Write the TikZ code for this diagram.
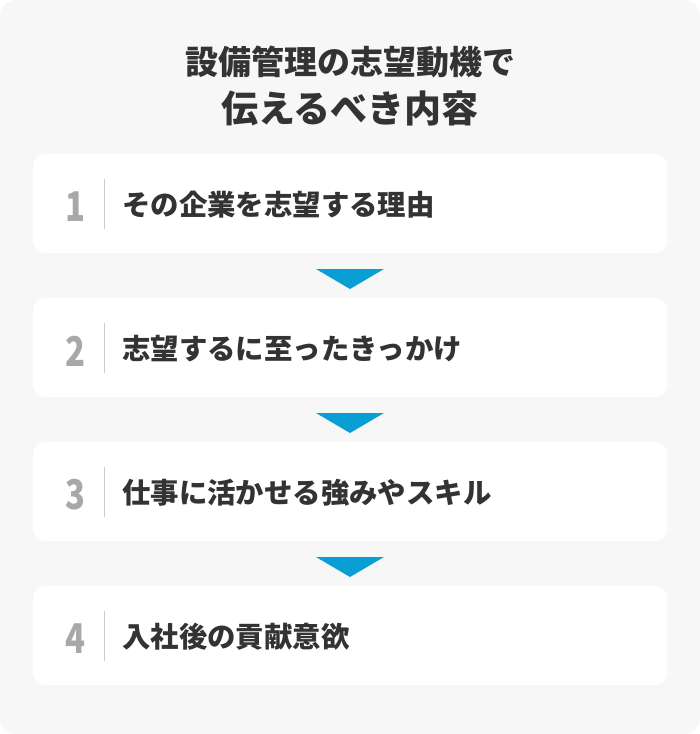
\documentclass[tikz,border=0pt]{standalone}
\usepackage{fontspec}
\setmainfont{Noto Sans CJK JP}
\newfontfamily\jpfont{Noto Sans CJK JP}
\definecolor{bgc}{HTML}{F7F7F7}
\definecolor{txtc}{HTML}{333333}
\definecolor{numc}{HTML}{A8A8A8}
\definecolor{sepc}{HTML}{CCCCCC}
\definecolor{arrc}{HTML}{0A9FD2}
\tikzset{
  card/.style={fill=white, rounded corners=12pt},
  numlbl/.style={text=numc, font=\jpfont\bfseries\fontsize{41}{41}\selectfont, inner sep=0pt},
  itemlbl/.style={text=txtc, font=\jpfont\bfseries\fontsize{28.4}{28.4}\selectfont, anchor=west, inner sep=0pt},
  sepline/.style={draw=sepc, line width=1.3pt},
  tri/.style={fill=arrc},
  titlelbl/.style={text=txtc, inner sep=0pt}
}
\begin{document}
\begin{tikzpicture}[x=1pt,y=-1pt]
\useasboundingbox (0,0) rectangle (700,734);
\fill[white] (0,0) rectangle (700,734);
\fill[bgc, rounded corners=16pt] (0,0) rectangle (700,734);
\node[titlelbl, font=\jpfont\bfseries\fontsize{33}{33}\selectfont] (t1) at (350,62) {設備管理の志望動機で};
\node[titlelbl, font=\jpfont\bfseries\fontsize{37}{37}\selectfont] (t2) at (350,108) {伝えるべき内容};
\foreach \i/\txt [count=\k from 0] in {1/その企業を志望する理由, 2/志望するに至ったきっかけ, 3/仕事に活かせる強みやスキル, 4/入社後の貢献意欲}{
  \pgfmathsetmacro{\y}{154+144*\k}
  \fill[card] (33,\y) rectangle (667,\y+99);
  \node[numlbl] (n\i) at (75.5,\y+53) {\scalebox{0.8}[1]{\i}};
  \coordinate (sa\i) at (104.5,\y+25);
  \coordinate (sb\i) at (104.5,\y+75);
  \draw[sepline] (sa\i) -- (sb\i);
  \node[itemlbl] (l\i) at (122,\y+51) {\txt};
}
\foreach \k in {0,1,2}{
  \pgfmathsetmacro{\y}{269+144*\k}
  \fill[tri] (316,\y) -- (384,\y) -- (350,\y+20) -- cycle;
}
\end{tikzpicture}
\end{document}
